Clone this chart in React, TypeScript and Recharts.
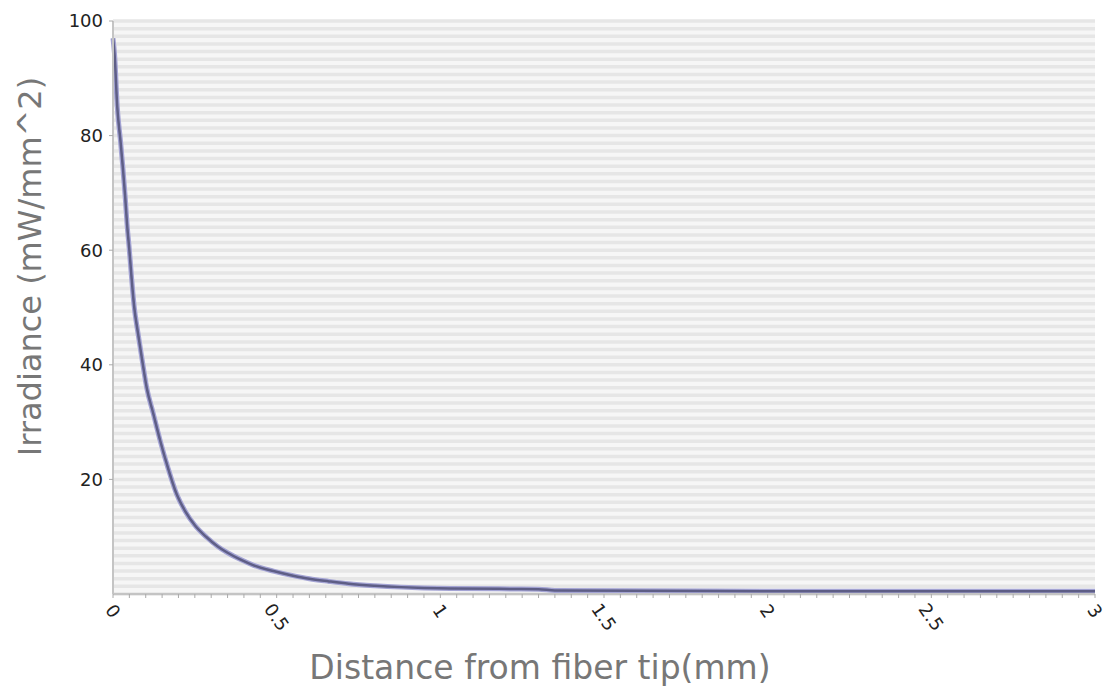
import React from 'react';
import { LineChart, Line, XAxis, YAxis, CartesianGrid } from 'recharts';

// distance from fiber tip (mm)
const distance = [
  0, 0.005, 0.013, 0.023, 0.03, 0.037, 0.043, 0.05, 0.057, 0.065, 0.075, 0.09,
  0.103, 0.123, 0.143, 0.168, 0.194, 0.22, 0.25, 0.286, 0.32, 0.35, 0.39, 0.43,
  0.49, 0.55, 0.6, 0.66, 0.72, 0.8, 0.88, 0.95, 1.03, 1.18, 1.3, 1.35, 1.6, 2.0,
  2.5, 3.0,
];

// irradiance (mW/mm^2)
const irradiance = [
  97, 94, 85, 79, 74.5, 69.5, 64.5, 60, 55, 50, 46, 40.5,
  36, 31.5, 27, 22, 17.5, 14.5, 12, 9.9, 8.3, 7.2, 6.0, 5.0,
  4.0, 3.2, 2.65, 2.2, 1.8, 1.45, 1.2, 1.05, 0.95, 0.9, 0.85, 0.6, 0.55, 0.5,
  0.5, 0.5,
];

const yTicks = [20, 40, 60, 80, 100];
const xTicks = Array.from({ length: 61 }, (_, i) => Math.round(i * 5) / 100);
const stripeValues = Array.from({ length: 76 }, (_, i) => (i * 4) / 3);

const data = distance.map((d, i) => ({ d, v: irradiance[i] }));

// only label every 0.5, the rest are just minor tick marks
const XTick = (props: any) => {
  const { x, payload } = props;
  const v = payload.value;
  if (Math.abs(v * 2 - Math.round(v * 2)) > 1e-6) return null;
  const cy = String(v).length > 1 ? 617 : 611;
  return (
    <text
      x={x}
      y={cy}
      transform={`rotate(55 ${x} ${cy})`}
      textAnchor="middle"
      dominantBaseline="central"
      fontSize={18}
      fontFamily="DejaVu Sans"
      fill="#222"
    >
      {String(v)}
    </text>
  );
};

const YTitle = (props: any) => {
  const { viewBox } = props;
  const cy = viewBox.y + viewBox.height / 2 - 41;
  return (
    <text
      x={30}
      y={cy}
      transform={`rotate(-90 30 ${cy})`}
      textAnchor="middle"
      dominantBaseline="central"
      fontSize={32}
      fontFamily="DejaVu Sans"
      fill="#777"
    >
      Irradiance (mW/mm^2)
    </text>
  );
};

const XTitle = (props: any) => {
  const { viewBox } = props;
  const cx = viewBox.x + viewBox.width / 2 - 64;
  return (
    <text
      x={cx}
      y={667}
      textAnchor="middle"
      dominantBaseline="central"
      fontSize={33}
      fontFamily="DejaVu Sans"
      fill="#777"
    >
      Distance from fiber tip(mm)
    </text>
  );
};

export default function App() {
  return (
    <div style={{ position: 'absolute', left: 0, top: 0, width: 1106, height: 691, background: '#fff' }}>
      <LineChart
        width={1106}
        height={691}
        data={data}
        margin={{ top: 21, right: 11, left: 0, bottom: 0 }}
      >
        <CartesianGrid
          vertical={false}
          horizontalCoordinatesGenerator={({ offset }: any) =>
            stripeValues.map((v) => offset.top + offset.height * (1 - v / 100))
          }
          stroke="#e6e6e6"
          strokeWidth={3.5}
          fill="#f6f6f6"
        />
        <XAxis
          type="number"
          dataKey="d"
          domain={[0, 3]}
          ticks={xTicks}
          interval={0}
          height={97}
          tick={<XTick />}
          tickLine={{ stroke: '#aaa' }}
          tickSize={4}
          axisLine={{ stroke: '#c4c4c4', strokeWidth: 2 }}
          label={<XTitle />}
        />
        <YAxis
          type="number"
          domain={[0, 100]}
          ticks={yTicks}
          width={113}
          tick={{ fill: '#222', fontSize: 18, fontFamily: 'DejaVu Sans' }}
          tickLine={{ stroke: '#aaa' }}
          tickSize={4}
          tickMargin={6}
          axisLine={{ stroke: '#c4c4c4', strokeWidth: 2 }}
          label={<YTitle />}
        />
        <Line
          type="monotone"
          dataKey="v"
          stroke="#a4a4d4"
          strokeWidth={5}
          dot={false}
          isAnimationActive={false}
        />
        <Line
          type="monotone"
          dataKey="v"
          stroke="#5e5e86"
          strokeWidth={2.5}
          dot={false}
          isAnimationActive={false}
        />
      </LineChart>
    </div>
  );
}
